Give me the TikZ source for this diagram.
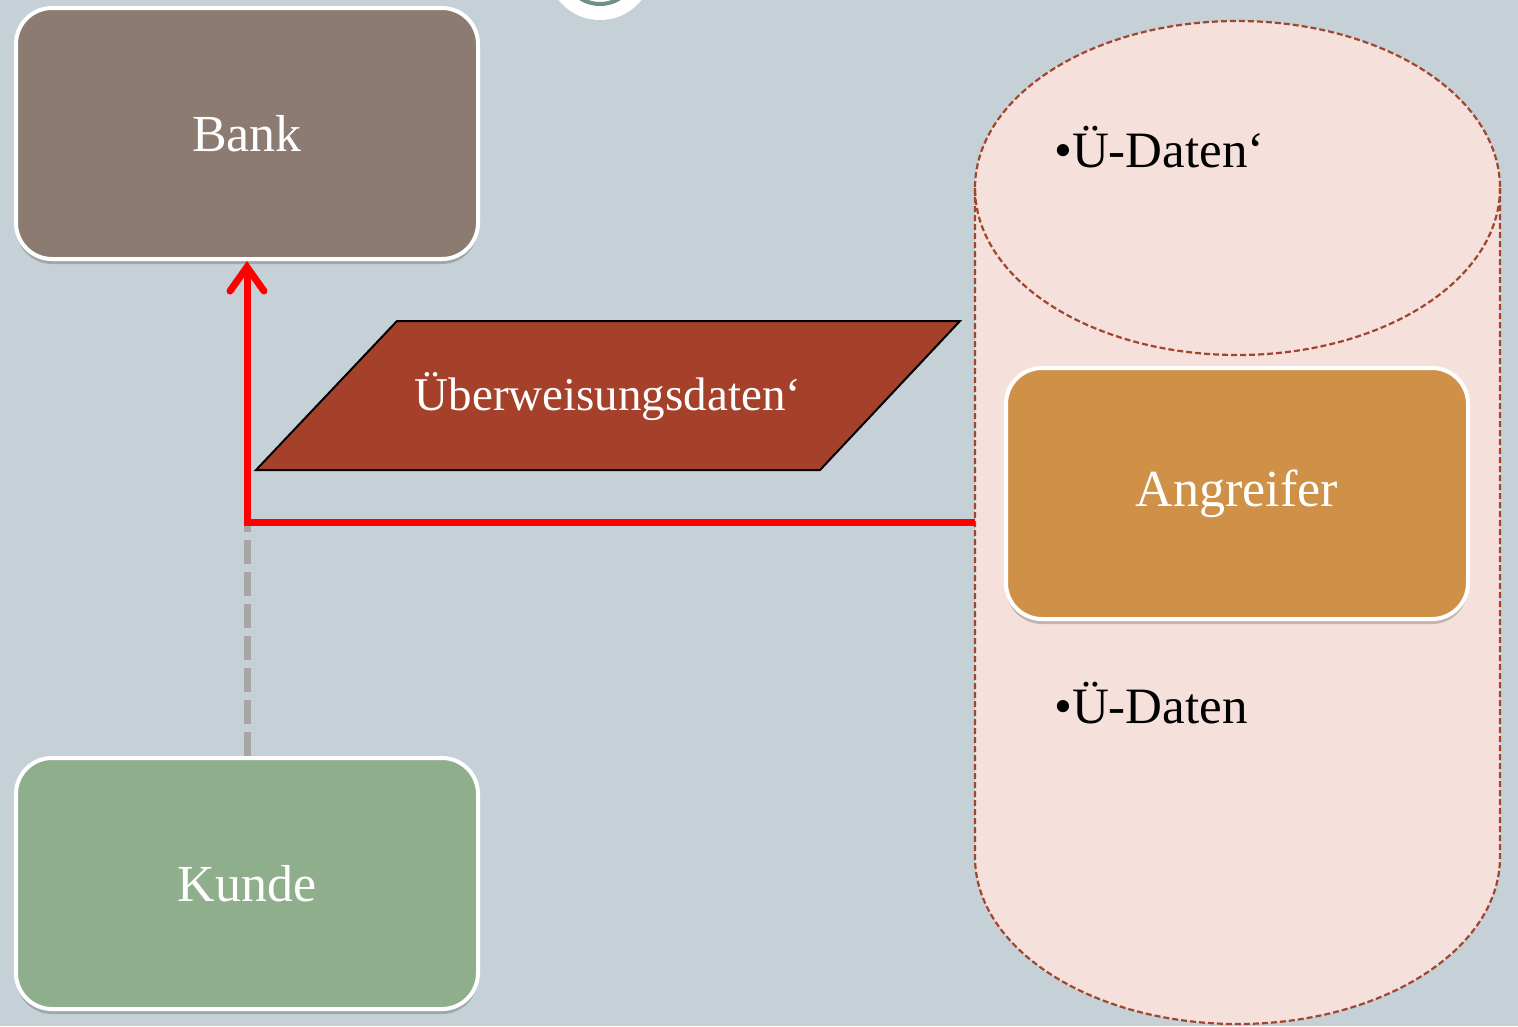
\documentclass[tikz,border=0pt]{standalone}
\usepackage{fontspec}
\setmainfont{Liberation Serif}
\usetikzlibrary{arrows.meta,shadows}
\definecolor{bgc}{HTML}{C5D1D7}
\definecolor{bankc}{HTML}{8B7B70}
\definecolor{kundec}{HTML}{8FAE8C}
\definecolor{angrc}{HTML}{CF9048}
\definecolor{parac}{HTML}{A5412A}
\definecolor{cylc}{HTML}{F5E0DB}
\definecolor{cylborder}{HTML}{A0462F}
\definecolor{tealc}{HTML}{6E8F8A}
\definecolor{dashgray}{HTML}{A6A6A6}
\tikzset{
  boxnode/.style={draw=white, line width=4pt, rounded corners=36pt,
    minimum width=462pt, minimum height=251pt, text=white,
    font=\fontsize{52}{60}\selectfont,
    drop shadow={shadow xshift=0pt, shadow yshift=-5pt, opacity=0.2, fill=black}},
  listtext/.style={anchor=base west, inner sep=0pt, font=\fontsize{51}{60}\selectfont, text=black},
  cylstyle/.style={draw=cylborder, line width=2.2pt, dash pattern=on 6pt off 3pt}
}
\begin{document}
\begin{tikzpicture}[x=1pt,y=-1pt]
\useasboundingbox (0,0) rectangle (1518,1026);
\fill[bgc] (0,0) rectangle (1518,1026);
% partial circle at the top
\begin{scope}
\clip (0,0) rectangle (1518,1026);
\fill[white] (600,-33) circle[radius=53];
\draw[tealc, line width=4pt] (600,-33) circle[radius=37];
\end{scope}
% cylinder
\fill[cylc] (975,188) -- (975,857) arc[start angle=180, end angle=0, x radius=262.5, y radius=167]
  -- (1500,188) arc[start angle=0, end angle=-180, x radius=262.5, y radius=167] -- cycle;
\draw[cylstyle] (975,188) -- (975,857) arc[start angle=180, end angle=0, x radius=262.5, y radius=167] -- (1500,188);
\draw[cylstyle] (1237.5,188) ellipse[x radius=262.5, y radius=167];
\node[listtext] (ud1) at (1054,167) {•Ü-Daten‘};
\node[listtext] (ud2) at (1054,723) {•Ü-Daten};
% boxes
\node[boxnode, fill=bankc] (bank) at (247,133.5) {Bank};
\node[boxnode, fill=kundec] (kunde) at (247,883.5) {Kunde};
\node[boxnode, fill=angrc] (angr) at (1237,493.5) {Angreifer};
% parallelogram
\fill[parac, draw=black, line width=2pt, line join=miter] (397,321) -- (960,321) -- (820,470) -- (256,470) -- cycle;
\node[text=white, font=\fontsize{47}{55}\selectfont] (daten) at (608,397) {Überweisungsdaten‘};
% connectors
\coordinate (corner) at (247,522);
\coordinate (attack) at (975,522);
\draw[dashgray, line width=7pt, dash pattern=on 24pt off 8pt] (kunde.north) -- (corner);
\draw[red, line width=7pt, line join=miter, -{Straight Barb[length=24pt,width=34pt,line cap=round]}] (attack) -- (corner) -- (bank.south);
\end{tikzpicture}
\end{document}
